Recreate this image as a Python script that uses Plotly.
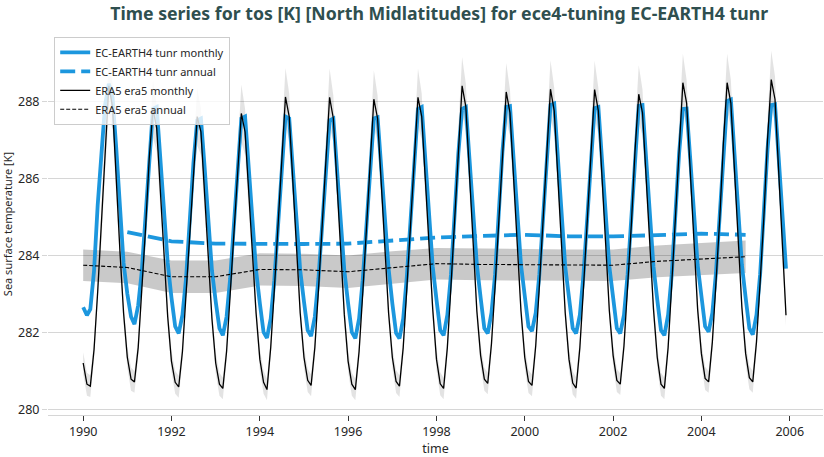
import plotly.graph_objects as go
import pandas as pd

# ---------------- data ----------------
years = list(range(1990, 2006))

# ERA5 monthly SST [K], Jan..Dec for each year 1990-2005
era5_monthly = [
    281.20, 280.65, 280.60, 281.55, 283.05, 284.75, 286.70, 288.40, 287.85, 285.90, 284.10, 282.50,  # 1990
    281.35, 280.78, 280.71, 281.60, 283.10, 284.70, 286.50, 287.80, 287.30, 285.70, 284.00, 282.40,  # 1991
    281.25, 280.70, 280.58, 281.50, 283.00, 284.60, 286.30, 287.60, 287.20, 285.60, 283.90, 282.35,  # 1992
    281.20, 280.65, 280.54, 281.50, 283.00, 284.60, 286.40, 287.68, 287.20, 285.70, 284.00, 282.50,  # 1993
    281.30, 280.70, 280.51, 281.60, 283.10, 284.70, 286.50, 288.11, 287.60, 285.80, 284.10, 282.50,  # 1994
    281.35, 280.75, 280.62, 281.60, 283.10, 284.70, 286.50, 288.10, 287.55, 285.80, 284.10, 282.45,  # 1995
    281.25, 280.65, 280.51, 281.50, 283.00, 284.60, 286.40, 288.05, 287.55, 285.80, 284.10, 282.50,  # 1996
    281.35, 280.72, 280.60, 281.60, 283.15, 284.80, 286.60, 288.10, 287.60, 285.90, 284.20, 282.60,  # 1997
    281.30, 280.66, 280.54, 281.60, 283.20, 284.90, 286.80, 288.40, 287.85, 286.00, 284.20, 282.55,  # 1998
    281.40, 280.78, 280.67, 281.70, 283.20, 284.85, 286.70, 288.24, 287.70, 285.95, 284.20, 282.55,  # 1999
    281.35, 280.72, 280.62, 281.65, 283.20, 284.85, 286.70, 288.31, 287.75, 285.95, 284.20, 282.50,  # 2000
    281.30, 280.68, 280.55, 281.60, 283.15, 284.80, 286.70, 288.30, 287.75, 285.95, 284.20, 282.55,  # 2001
    281.40, 280.75, 280.65, 281.65, 283.20, 284.80, 286.70, 288.18, 287.70, 285.95, 284.25, 282.60,  # 2002
    281.35, 280.65, 280.54, 281.60, 283.25, 284.95, 286.90, 288.48, 287.95, 286.10, 284.30, 282.60,  # 2003
    281.45, 280.80, 280.71, 281.75, 283.30, 284.95, 286.90, 288.48, 287.95, 286.10, 284.30, 282.65,  # 2004
    281.45, 280.82, 280.71, 281.75, 283.30, 285.00, 287.00, 288.56, 288.05, 286.10, 284.20, 282.44,  # 2005
]

# EC-EARTH4 tunr monthly SST [K], Jan..Dec for each year 1990-2005
ece_monthly = [
    282.65, 282.44, 282.60, 283.60, 285.30, 286.80, 287.90, 288.45, 288.10, 286.80, 285.30, 283.80,  # 1990
    283.00, 282.40, 282.21, 282.70, 283.60, 285.00, 286.60, 287.80, 287.85, 286.60, 285.10, 283.80,  # 1991
    282.90, 282.15, 281.97, 282.45, 283.40, 284.90, 286.40, 287.50, 287.55, 286.30, 284.90, 283.60,  # 1992
    282.80, 282.10, 281.92, 282.40, 283.40, 284.90, 286.40, 287.55, 287.60, 286.30, 285.00, 283.60,  # 1993
    282.75, 282.00, 281.85, 282.35, 283.35, 284.85, 286.40, 287.60, 287.55, 286.30, 284.95, 283.60,  # 1994
    282.80, 282.05, 281.90, 282.40, 283.40, 284.85, 286.35, 287.50, 287.55, 286.30, 284.95, 283.60,  # 1995
    282.75, 282.00, 281.84, 282.35, 283.35, 284.85, 286.40, 287.55, 287.58, 286.35, 285.00, 283.65,  # 1996
    282.75, 281.98, 281.84, 282.35, 283.45, 285.00, 286.60, 287.80, 287.85, 286.50, 285.10, 283.70,  # 1997
    282.85, 282.05, 281.92, 282.45, 283.50, 285.05, 286.65, 287.80, 287.85, 286.50, 285.10, 283.75,  # 1998
    282.90, 282.10, 281.97, 282.50, 283.50, 285.05, 286.70, 287.85, 287.87, 286.50, 285.10, 283.75,  # 1999
    282.95, 282.15, 282.03, 282.50, 283.50, 285.05, 286.70, 287.90, 287.94, 286.55, 285.10, 283.70,  # 2000
    282.90, 282.10, 281.97, 282.45, 283.50, 285.00, 286.65, 287.82, 287.85, 286.50, 285.10, 283.70,  # 2001
    282.90, 282.10, 281.97, 282.45, 283.50, 285.05, 286.70, 287.88, 287.90, 286.50, 285.10, 283.70,  # 2002
    282.85, 282.05, 281.92, 282.45, 283.50, 285.05, 286.65, 287.80, 287.81, 286.50, 285.15, 283.75,  # 2003
    282.95, 282.15, 282.01, 282.50, 283.55, 285.15, 286.80, 288.00, 288.04, 286.60, 285.15, 283.75,  # 2004
    282.90, 282.10, 281.94, 282.45, 283.50, 285.10, 286.75, 287.90, 287.92, 286.55, 285.10, 283.65,  # 2005
]

# ERA5 monthly spread by calendar month (Jan..Dec) [K]
era5_monthly_spread = [0.28, 0.30, 0.28, 0.25, 0.30, 0.40, 0.55, 0.75, 0.60, 0.40, 0.30, 0.28]

# annual means
era5_annual = [283.74, 283.68, 283.44, 283.44, 283.63, 283.62, 283.57, 283.68,
               283.78, 283.76, 283.75, 283.74, 283.74, 283.84, 283.90, 283.96]
era5_annual_spread = [0.41, 0.41, 0.42, 0.42, 0.42, 0.42, 0.42, 0.42,
                      0.41, 0.41, 0.41, 0.41, 0.41, 0.41, 0.41, 0.42]
ece_annual_years = list(range(1991, 2006))
ece_annual = [284.60, 284.36, 284.30, 284.29, 284.29, 284.30, 284.38, 284.46,
              284.50, 284.53, 284.49, 284.49, 284.52, 284.56, 284.53]

y_ticks = [280, 282, 284, 286, 288]
x_tick_years = [1990, 1992, 1994, 1996, 1998, 2000, 2002, 2004, 2006]

# ---------------- figure ----------------
month_dates = pd.date_range("1990-01-01", periods=len(era5_monthly), freq="MS")
era5_annual_dates = pd.to_datetime([f"{y}-01-01" for y in years])
ece_annual_dates = pd.to_datetime([f"{y}-01-01" for y in ece_annual_years])

spread_m = [era5_monthly_spread[d.month - 1] for d in month_dates]
up_m = [v + s for v, s in zip(era5_monthly, spread_m)]
lo_m = [v - s for v, s in zip(era5_monthly, spread_m)]
up_a = [v + s for v, s in zip(era5_annual, era5_annual_spread)]
lo_a = [v - s for v, s in zip(era5_annual, era5_annual_spread)]

BLUE = "#1c97de"
fig = go.Figure()

# bands
fig.add_trace(go.Scatter(x=list(month_dates) + list(month_dates[::-1]), y=up_m + lo_m[::-1],
                         fill="toself", fillcolor="rgba(0,0,0,0.11)", line=dict(width=0),
                         mode="lines", showlegend=False, hoverinfo="skip"))
fig.add_trace(go.Scatter(x=list(era5_annual_dates) + list(era5_annual_dates[::-1]), y=up_a + lo_a[::-1],
                         fill="toself", fillcolor="rgba(0,0,0,0.21)", line=dict(width=0),
                         mode="lines", showlegend=False, hoverinfo="skip"))

fig.add_trace(go.Scatter(x=month_dates, y=ece_monthly, mode="lines", name="EC-EARTH4 tunr monthly",
                         line=dict(color=BLUE, width=3.8)))
fig.add_trace(go.Scatter(x=ece_annual_dates, y=ece_annual, mode="lines", name="EC-EARTH4 tunr annual",
                         line=dict(color=BLUE, width=3.8, dash="15px,6px")))
fig.add_trace(go.Scatter(x=month_dates, y=era5_monthly, mode="lines", name="ERA5 era5 monthly",
                         line=dict(color="black", width=1.3)))
fig.add_trace(go.Scatter(x=era5_annual_dates, y=era5_annual, mode="lines", name="ERA5 era5 annual",
                         line=dict(color="black", width=1.1, dash="4px,2px")))

FONT = "Noto Sans"
fig.update_layout(
    width=824, height=457,
    margin=dict(l=48, r=1, t=33, b=42),
    paper_bgcolor="white", plot_bgcolor="white",
    font=dict(family=FONT, size=12, color="#262626"),
    title=dict(text="<b>Time series for tos [K] [North Midlatitudes] for ece4-tuning EC-EARTH4 tunr</b>",
               x=0.533, xanchor="center", y=0.97, yanchor="middle",
               font=dict(family=FONT, size=17.7, color="#2f4f4f")),
    showlegend=True,
    legend=dict(x=0.008, y=0.99, xanchor="left", yanchor="top",
                bgcolor="rgba(255,255,255,0.8)", bordercolor="#cccccc", borderwidth=1,
                font=dict(family=FONT, size=11, color="#262626"), itemwidth=30,
                tracegroupgap=0),
)
fig.update_xaxes(
    type="date", range=["1989-03-16", "2006-10-03"],
    tickvals=[f"{y}-01-01" for y in x_tick_years], ticktext=[str(y) for y in x_tick_years],
    showgrid=False, zeroline=False, ticks="outside", ticklen=5, tickcolor="#333333",
    showline=True, linecolor="#d6d6d6", linewidth=1,
    tickfont=dict(size=12.5), title=dict(text="time", font=dict(size=12.5), standoff=7),
)
fig.update_yaxes(
    range=[279.85, 289.77], tickvals=y_ticks, ticktext=[str(t) for t in y_ticks],
    showgrid=True, gridcolor="#d6d6d6", gridwidth=1, zeroline=False,
    ticks="outside", ticklen=5, tickcolor="#d6d6d6",
    tickfont=dict(size=12.5), title=dict(text="Sea surface temperature [K]", font=dict(size=11), standoff=4),
)

fig.write_html("out.html", config={"displayModeBar": False},
               post_script="document.body.style.margin='0';document.body.style.overflow='hidden';")
